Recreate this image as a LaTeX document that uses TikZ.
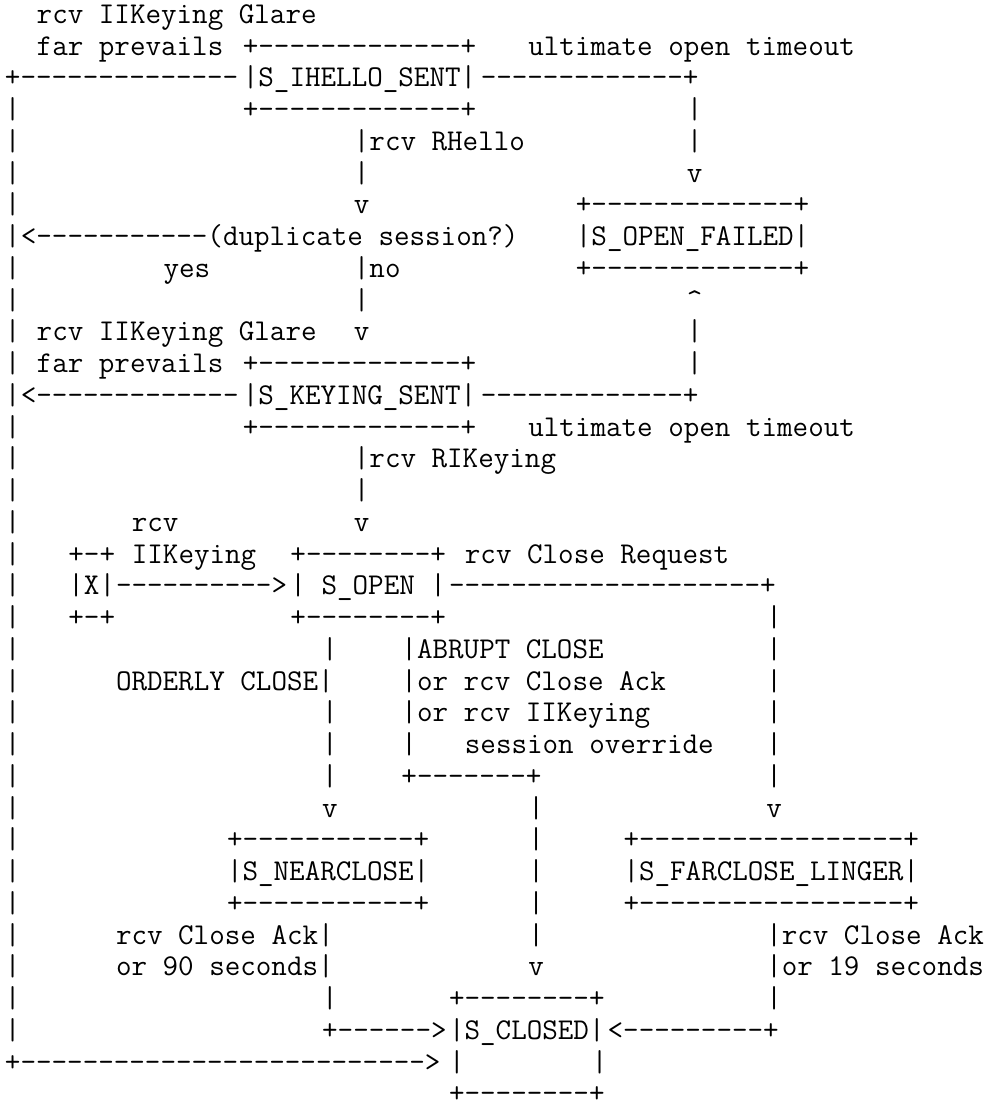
\documentclass[tikz,border=0pt]{standalone}
\usepackage{fontspec}

\begin{document}
\begin{tikzpicture}[
  x=7.93pt, y=-15.875pt,
  every node/.style={anchor=base west, inner sep=0pt, outer sep=0pt,
    font={\fontsize{15.1pt}{15.875pt}\selectfont\ttfamily}}
]
\tikzset{
  ascii/.style={text=black},
  etat/.style={text=black}
}
\useasboundingbox (-0.315,-0.74) rectangle (62.36,33.97);

% colonnes verticales
\foreach \r in {3,...,32} \node[ascii] (bord\r) at (0,\r) {|};
\foreach \r in {3,4,10,11} \node[ascii] (droit\r) at (43,\r) {|};
\foreach \r in {5,9,15} \node[ascii] (axe\r) at (22,\r) {|};
\foreach \r in {19,...,24,31} \node[ascii] (fin\r) at (48,\r) {|};
\foreach \r in {20,22,23,24,31} \node[ascii] (ordre\r) at (20,\r) {|};
\foreach \r in {25,...,29} \node[ascii] (abrupt\r) at (33,\r) {|};

% S_IHELLO_SENT
\node[ascii] (glare1) at (2,0) {rcv IIKeying Glare};
\node[ascii] (prev1) at (2,1) {far prevails};
\node[ascii] (hellohaut) at (15,1) {+-------------+};
\node[ascii] (timeout1) at (33,1) {ultimate open timeout};
\node[ascii] (coin1) at (0,2) {+--------------};
\node[etat] (hello) at (15,2) {|S\_IHELLO\_SENT|};
\node[ascii] (vers1) at (30,2) {-------------+};
\node[ascii] (hellobas) at (15,3) {+-------------+};
\node[ascii] (rhello) at (22,4) {|rcv RHello};
\node[ascii] (fleche1) at (43,5) {v};
\node[ascii] (fleche2) at (22,6) {v};

% S_OPEN_FAILED
\node[ascii] (failhaut) at (36,6) {+-------------+};
\node[ascii] (dup) at (1,7) {<-----------(duplicate session?)};
\node[etat] (failed) at (36,7) {|S\_OPEN\_FAILED|};
\node[ascii] (oui) at (10,8) {yes};
\node[ascii] (non) at (22,8) {|no};
\node[ascii] (failbas) at (36,8) {+-------------+};
\node[ascii] (fleche3) at (43,9) {\textasciicircum};

% S_KEYING_SENT
\node[ascii] (glare2) at (2,10) {rcv IIKeying Glare};
\node[ascii] (fleche4) at (22,10) {v};
\node[ascii] (prev2) at (2,11) {far prevails};
\node[ascii] (keyhaut) at (15,11) {+-------------+};
\node[ascii] (retour2) at (1,12) {<-------------};
\node[etat] (keying) at (15,12) {|S\_KEYING\_SENT|};
\node[ascii] (vers2) at (30,12) {-------------+};
\node[ascii] (keybas) at (15,13) {+-------------+};
\node[ascii] (timeout2) at (33,13) {ultimate open timeout};
\node[ascii] (rikeying) at (22,14) {|rcv RIKeying};
\node[ascii] (rcvx) at (8,16) {rcv};
\node[ascii] (fleche5) at (22,16) {v};

% X et S_OPEN
\node[ascii] (xhaut) at (4,17) {+-+};
\node[ascii] (iikeying) at (8,17) {IIKeying};
\node[ascii] (openhaut) at (18,17) {+--------+};
\node[ascii] (closereq) at (29,17) {rcv Close Request};
\node[etat] (xnode) at (4,18) {|X|};
\node[ascii] (xvers) at (7,18) {---------->};
\node[etat] (open) at (18,18) {|\ S\_OPEN\ |};
\node[ascii] (vers3) at (28,18) {--------------------+};
\node[ascii] (xbas) at (4,19) {+-+};
\node[ascii] (openbas) at (18,19) {+--------+};
\node[ascii] (abr1) at (25,20) {|ABRUPT CLOSE};
\node[ascii] (orderly) at (7,21) {ORDERLY CLOSE|};
\node[ascii] (abr2) at (25,21) {|or rcv Close Ack};
\node[ascii] (abr3) at (25,22) {|or rcv IIKeying};
\node[ascii] (abr4) at (25,23) {|};
\node[ascii] (override) at (29,23) {session override};
\node[ascii] (abrcoin) at (25,24) {+-------+};
\node[ascii] (fleche6) at (20,25) {v};
\node[ascii] (fleche7) at (48,25) {v};

% S_NEARCLOSE et S_FARCLOSE_LINGER
\node[ascii] (nearhaut) at (14,26) {+-----------+};
\node[ascii] (farhaut) at (39,26) {+-----------------+};
\node[etat] (nearclose) at (14,27) {|S\_NEARCLOSE|};
\node[etat] (farclose) at (39,27) {|S\_FARCLOSE\_LINGER|};
\node[ascii] (nearbas) at (14,28) {+-----------+};
\node[ascii] (farbas) at (39,28) {+-----------------+};
\node[ascii] (ack1) at (7,29) {rcv Close Ack|};
\node[ascii] (ack2) at (48,29) {|rcv Close Ack};
\node[ascii] (sec1) at (7,30) {or 90 seconds|};
\node[ascii] (fleche8) at (33,30) {v};
\node[ascii] (sec2) at (48,30) {|or 19 seconds};

% S_CLOSED
\node[ascii] (closedhaut) at (28,31) {+--------+};
\node[ascii] (vers4) at (20,32) {+------>};
\node[etat] (closed) at (28,32) {|S\_CLOSED|};
\node[ascii] (vers5) at (38,32) {<---------+};
\node[ascii] (coin2) at (0,33) {+----------{}----------{}------>};
\node[ascii] (closedg) at (28,33) {|};
\node[ascii] (closedd) at (37,33) {|};
\node[ascii] (closedbas) at (28,34) {+--------+};
\end{tikzpicture}
\end{document}
